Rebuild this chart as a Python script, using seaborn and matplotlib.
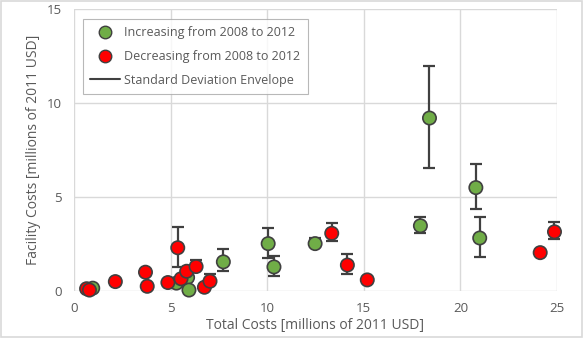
import matplotlib
matplotlib.use("Agg")
import matplotlib.pyplot as plt
import seaborn as sns
import pandas as pd
import numpy as np
from matplotlib.lines import Line2D

# Increasing from 2008 to 2012
inc_x = [0.97, 5.3, 5.88, 5.95, 7.73, 10.05, 10.35, 12.48, 17.93, 18.4, 20.8, 21.0]
inc_y = [0.15, 0.42, 0.72, 0.05, 1.55, 2.52, 1.28, 2.52, 3.47, 9.2, 5.5, 2.82]
inc_lo = [0.0, 0.0, 0.0, 0.0, 0.5, 0.75, 0.48, 0.0, 0.37, 2.65, 1.12, 1.0]
inc_hi = [0.0, 0.0, 0.0, 0.0, 0.7, 0.85, 0.58, 0.3, 0.45, 2.78, 1.27, 1.13]

# Decreasing from 2008 to 2012
dec_x = [0.65, 0.8, 2.14, 3.7, 3.79, 4.86, 5.37, 5.54, 5.83, 6.32, 6.75, 7.04, 13.34, 14.15, 15.18, 24.13, 24.87]
dec_y = [0.12, 0.05, 0.5, 1.0, 0.25, 0.45, 2.3, 0.65, 1.05, 1.3, 0.2, 0.52, 3.07, 1.38, 0.59, 2.04, 3.15]
dec_lo = [0, 0, 0, 0, 0, 0, 1.0, 0, 0, 0, 0, 0, 0.4, 0.45, 0, 0, 0.37]
dec_hi = [0, 0, 0, 0, 0, 0, 1.13, 0, 0, 0.35, 0, 0.38, 0.55, 0.58, 0, 0, 0.52]

x_ticks = [0, 5, 10, 15, 20, 25]
y_ticks = [0, 5, 10, 15]

GREEN = "#70AD47"
RED = "#FF0000"
EDGE = "#404040"
TXT = "#595959"

sns.set_theme(style="white")
plt.rcParams["font.family"] = ["Open Sans", "DejaVu Sans"]

fig = plt.figure(figsize=(5.84, 3.38), dpi=100)
ax = fig.add_axes([74/584, 1-291/338, (557-74)/584, (291-9)/338])

df = pd.concat([
    pd.DataFrame({"x": inc_x, "y": inc_y, "lo": inc_lo, "hi": inc_hi, "grp": "inc"}),
    pd.DataFrame({"x": dec_x, "y": dec_y, "lo": dec_lo, "hi": dec_hi, "grp": "dec"}),
])

eb = df[(df.lo > 0) | (df.hi > 0)]
ax.errorbar(eb.x, eb.y, yerr=[eb.lo, eb.hi], fmt="none", ecolor=EDGE,
            elinewidth=1.6, capsize=4.6, capthick=1.6, zorder=2, clip_on=False)

sns.scatterplot(data=df, x="x", y="y", hue="grp",
                palette={"inc": GREEN, "dec": RED}, s=92,
                edgecolor=EDGE, linewidth=1.2, legend=False, ax=ax, zorder=3,
                clip_on=False)

ax.set_xlim(0, 25)
ax.set_ylim(0, 15)
ax.set_xticks(x_ticks)
ax.set_yticks(y_ticks)
ax.grid(True, color="#D9D9D9", linewidth=1)
ax.set_axisbelow(True)
for s in ax.spines.values():
    s.set_visible(False)
ax.tick_params(axis="y", length=0, labelsize=9.5, labelcolor=TXT, pad=9)
ax.tick_params(axis="x", length=0, labelsize=9.5, labelcolor=TXT, pad=8)
ax.set_xlabel("Total Costs [millions of 2011 USD]", fontsize=10, color=TXT)
ax.set_ylabel("Facility Costs [millions of 2011 USD]", fontsize=10, color=TXT)
ax.xaxis.set_label_coords(0.5, -0.095)
ax.yaxis.set_label_coords(-0.068, 0.5)

handles = [
    Line2D([], [], marker="o", linestyle="none", markersize=9, markerfacecolor=GREEN,
           markeredgecolor=EDGE, markeredgewidth=1.0),
    Line2D([], [], marker="o", linestyle="none", markersize=9, markerfacecolor=RED,
           markeredgecolor=EDGE, markeredgewidth=1.0),
    Line2D([], [], color=EDGE, linewidth=1.5),
]
labels = ["Increasing from 2008 to 2012", "Decreasing from 2008 to 2012",
          "Standard Deviation Envelope"]
leg = ax.legend(handles, labels, loc="upper left", bbox_to_anchor=(0.018, 0.965),
                frameon=True, fancybox=False, fontsize=9, labelcolor=TXT,
                handlelength=2.4, handletextpad=0.3, borderpad=0.6, labelspacing=0.85,
                borderaxespad=0, edgecolor="#A6A6A6")
leg.get_frame().set_linewidth(0.8)
# widen legend box to match reference right edge
fig.canvas.draw()
bb = leg.get_frame().get_bbox()
leg.get_frame().set_width(bb.width + 12)

fig.patches.append(plt.Rectangle((0.002, 0.003), 0.995, 0.994, transform=fig.transFigure,
                                 fill=False, edgecolor="#D9D9D9", linewidth=1.2))

fig.savefig("out.png", dpi=100)
